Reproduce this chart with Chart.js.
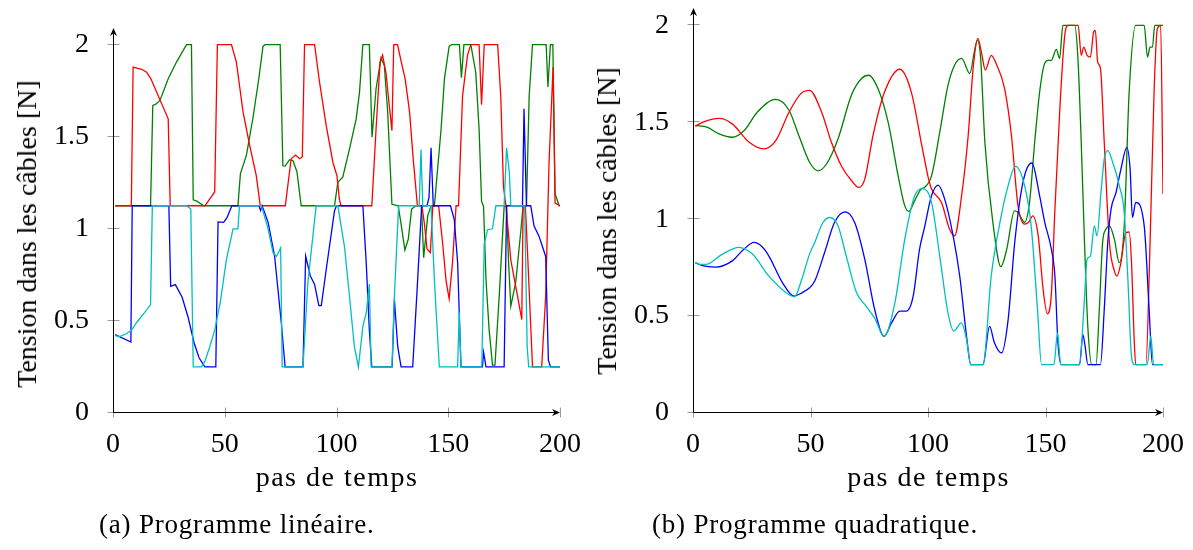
<!DOCTYPE html>
<html lang="fr">
<head>
<meta charset="utf-8">
<title>Tension dans les câbles</title>
<script src="https://cdn.jsdelivr.net/npm/chart.js@4.4.1/dist/chart.umd.min.js"></script>
<style>
  html, body { margin: 0; padding: 0; background: #fff; }
  #page { position: relative; width: 1193px; height: 550px; overflow: hidden;
          font-family: 'Liberation Serif', 'Times New Roman', serif; color: #000; }
  canvas { position: absolute; top: 0; }
  #cLin { left: 0; }
  #cQuad { left: 596px; }
  .lbl { position: absolute; white-space: nowrap; line-height: 1; }
  .xt { font-size: 28px; letter-spacing: 1.5px; top: 462.5px; transform: translateX(-50%); }
  .yt { font-size: 28px; transform: translate(-50%, -50%) rotate(-90deg); }
  .cap { font-size: 27px; letter-spacing: 0.8px; top: 511.4px; }
</style>
</head>
<body>
<div id="page">
  <canvas id="cLin" width="596" height="550"></canvas>
  <canvas id="cQuad" width="597" height="550"></canvas>
  <div class="lbl yt" style="left:26.5px; top:234px;">Tension dans les câbles [N]</div>
  <div class="lbl yt" style="left:606.5px; top:220.5px;">Tension dans les câbles [N]</div>
  <div class="lbl xt" style="left:337px;">pas de temps</div>
  <div class="lbl xt" style="left:928.5px;">pas de temps</div>
  <div class="lbl cap" style="left:99px;">(a) Programme linéaire.</div>
  <div class="lbl cap" style="left:652px;">(b) Programme quadratique.</div>
</div>
<script>
// Axis ticks shared by both panels
const xTicks = [0, 50, 100, 150, 200];
const yTicks = [0, 0.5, 1, 1.5, 2];

// ---- (a) Programme linéaire : tension of each cable per time step ----
const linCyanX = [1, 3, 6, 8.3, 10.5, 12.8, 16.8, 17.6, 32.9, 34.8, 35.9, 39.6, 41.1, 43.3, 45.5, 48, 50.7, 53.7, 55.9, 56.6, 66.4, 69.4, 71.6, 73.1, 75, 75.7, 85, 87.2, 90.9, 100.6, 103.6, 105.8, 108, 109.8, 111.8, 113.3, 114.7, 115.5, 124.8, 125.9, 127.8, 137, 137.8, 138.6, 142.3, 143.8, 146, 154.2, 154.9, 155.7, 165, 166.1, 167.6, 169.8, 171.3, 175, 176.1, 177.3, 178, 184.2, 185.3, 186, 200];
const linCyanY = [0.42, 0.415, 0.43, 0.45, 0.49, 0.525, 0.587, 1.125, 1.125, 1.107, 0.25, 0.25, 0.28, 0.36, 0.45, 0.6, 0.83, 1.0, 1.0, 1.125, 1.125, 1.0, 0.87, 0.85, 0.896, 0.25, 0.25, 0.71, 1.125, 1.125, 0.9, 0.634, 0.36, 0.25, 0.47, 0.543, 0.7, 0.25, 0.25, 0.634, 1.125, 1.125, 1.43, 1.125, 1.125, 0.72, 0.25, 0.25, 0.55, 0.25, 0.25, 0.92, 0.995, 1.0, 1.125, 1.125, 1.44, 1.31, 1.125, 1.125, 0.36, 0.25, 0.25];

const linBlueX = [1, 8, 8.6, 25, 25.8, 27.9, 30.9, 33.6, 36.3, 38.5, 41.1, 46, 47, 49.5, 51, 53.2, 65.3, 66, 66.7, 67.5, 69.4, 72.3, 75.3, 77, 85, 86.2, 88.3, 90.2, 92.1, 93.2, 95.4, 99.1, 100, 111.8, 113.3, 114.7, 115.8, 124.9, 125.9, 127.4, 128.9, 134.1, 136.3, 138.1, 140.5, 141.4, 142.3, 143.3, 151, 152.7, 154.2, 155.7, 165.3, 165.8, 166.9, 175, 176.1, 183.2, 183.9, 185, 186.9, 188.4, 190.6, 193.6, 194.8, 195.8, 200];
const linBlueY = [0.425, 0.385, 1.125, 1.125, 0.688, 0.697, 0.63, 0.52, 0.38, 0.3, 0.25, 0.25, 1.037, 1.035, 1.06, 1.125, 1.125, 1.1, 1.125, 1.1, 1.035, 0.852, 0.49, 0.25, 0.25, 0.852, 0.744, 0.698, 0.583, 0.583, 0.779, 1.097, 1.125, 1.125, 0.816, 0.45, 0.25, 0.25, 0.616, 0.36, 0.25, 0.25, 0.72, 1.125, 1.125, 1.17, 1.44, 1.125, 1.125, 1.05, 0.816, 0.25, 0.25, 0.33, 0.25, 0.25, 1.125, 1.125, 1.651, 1.125, 1.125, 1.015, 0.96, 0.85, 0.285, 0.25, 0.25];

const linRedX = [1, 8.2, 9.0, 12.8, 15, 16.8, 24.7, 25.6, 41.1, 43.8, 45.5, 46.7, 53, 55.2, 58.2, 61.2, 64.1, 65.9, 77.1, 79.7, 81.7, 83.5, 84.7, 85.7, 90.2, 92.4, 95.4, 98.4, 100.2, 101.3, 102, 115.8, 117.7, 119.5, 120.6, 122.1, 123.6, 124.8, 125.6, 127.3, 129, 130.7, 132.7, 134.2, 136.2, 138.2, 139.3, 140.5, 142, 143.1, 145.7, 147.5, 149, 150.4, 151.9, 153.5, 154.6, 156.4, 158.6, 160.1, 163.8, 164.9, 166.1, 172.1, 173.5, 174.7, 175.8, 178, 181, 182.9, 183.5, 184.5, 185.4, 187.7, 191.8, 193.6, 195.1, 196.9, 197.8, 200];
const linRedY = [1.125, 1.125, 1.878, 1.866, 1.85, 1.818, 1.597, 1.125, 1.125, 1.17, 1.2, 2.0, 2.0, 1.905, 1.633, 1.45, 1.288, 1.125, 1.125, 1.38, 1.4, 1.38, 1.39, 2.0, 2.0, 1.797, 1.56, 1.36, 1.288, 1.16, 1.125, 1.125, 1.542, 1.905, 1.942, 1.851, 1.669, 1.533, 2.0, 2.0, 1.905, 1.815, 1.633, 1.397, 1.125, 1.125, 1.03, 0.89, 0.87, 1.125, 1.125, 0.92, 0.72, 0.62, 0.816, 1.125, 1.125, 1.72, 1.942, 2.0, 2.0, 1.673, 2.0, 2.0, 1.72, 1.23, 1.125, 0.83, 0.634, 0.507, 1.125, 1.125, 0.89, 0.25, 0.25, 0.634, 1.36, 1.878, 1.14, 1.125];

const linGreenX = [1, 16.8, 17.8, 19, 21, 24.7, 28.4, 32.9, 35.1, 35.9, 37.5, 39.6, 40.5, 55.9, 57, 59.7, 62.6, 65.3, 67.1, 68, 74.8, 76, 77, 79, 80.5, 82.3, 84.2, 99.1, 100.6, 102.8, 105.8, 108.8, 110.3, 111.8, 114.7, 115.9, 117.7, 119.9, 121.4, 122.9, 124.8, 127.6, 128.8, 130.6, 132.1, 133.6, 135.6, 138, 139, 140.8, 142.3, 143.8, 146.8, 148.3, 150.4, 151.5, 155, 155.9, 157, 160.1, 162.3, 163.8, 164.9, 165.8, 166.9, 168.3, 169.8, 170.9, 172.8, 175, 176.1, 177, 178, 180.2, 182.4, 183.5, 185, 186.2, 187.7, 193.8, 194.6, 195.7, 196.8, 197.8, 199.6, 200];
const linGreenY = [1.125, 1.125, 1.67, 1.675, 1.697, 1.815, 1.905, 2.0, 2.0, 1.157, 1.15, 1.133, 1.125, 1.125, 1.298, 1.4, 1.6, 1.82, 1.99, 2.0, 2.0, 1.342, 1.34, 1.375, 1.37, 1.31, 1.125, 1.125, 1.252, 1.28, 1.433, 1.597, 1.742, 2.0, 2.0, 1.497, 1.76, 1.927, 1.887, 1.633, 1.133, 1.125, 1.034, 0.885, 0.943, 1.107, 1.125, 1.125, 0.843, 1.07, 1.125, 1.125, 1.542, 1.815, 1.99, 2.0, 2.0, 1.82, 2.0, 2.0, 1.85, 1.542, 1.15, 1.12, 0.72, 0.45, 0.26, 0.26, 0.634, 1.12, 1.125, 0.816, 0.58, 0.71, 0.98, 1.125, 1.125, 1.72, 2.0, 2.0, 1.77, 2.0, 2.0, 1.19, 1.125, 1.125];

// ---- (b) Programme quadratique ----
const quadCyanX = [1, 3, 5.4, 12.5, 19.5, 25.3, 32.3, 40.9, 43.3, 45.8, 49.6, 51.8, 55.3, 58.2, 61.7, 65.2, 69.6, 73.1, 77.3, 81.3, 85.9, 90.1, 94.3, 97.6, 101.5, 105, 108.5, 111, 114.2, 116.4, 118.2, 123.4, 126.9, 130.6, 134.1, 137.2, 141.1, 143.9, 146.6, 148.3, 153.6, 155.1, 156.5, 164.5, 166.3, 167.7, 169.1, 170.8, 171.9, 173.6, 175, 176.5, 178.6, 181.4, 183.5, 185, 186.6, 187.8, 193.3, 194.8, 196, 200];
const quadCyanY = [0.776, 0.767, 0.767, 0.82, 0.855, 0.82, 0.706, 0.61, 0.6, 0.672, 0.82, 0.88, 0.983, 1.009, 0.966, 0.81, 0.62, 0.56, 0.49, 0.396, 0.568, 0.896, 1.12, 1.158, 1.087, 0.81, 0.517, 0.423, 0.465, 0.38, 0.25, 0.25, 0.707, 0.983, 1.173, 1.273, 1.173, 0.966, 0.534, 0.25, 0.25, 0.413, 0.25, 0.25, 0.534, 0.793, 0.81, 0.966, 0.914, 1.138, 1.311, 1.354, 1.294, 1.173, 1.035, 0.707, 0.292, 0.25, 0.25, 0.396, 0.25, 0.25];

const quadBlueX = [1, 4, 9.7, 16.7, 21.2, 26, 29.2, 32.3, 38.1, 43, 46.3, 49.6, 51.8, 56, 60.2, 64.8, 68.8, 73.1, 77.3, 81.3, 84.5, 88, 90.8, 93.7, 96.4, 98.5, 101.5, 104.3, 107.1, 110.7, 113.5, 116.4, 118.2, 123.4, 126.2, 128.3, 131.3, 134.1, 136.9, 140.4, 144.2, 147.5, 149.7, 152.5, 154, 155.3, 156.7, 164.5, 165.9, 166.8, 168, 173.4, 175, 176.5, 177.9, 180, 182.1, 184.6, 186, 187, 188.4, 192, 194.1, 195.5, 200];
const quadBlueY = [0.776, 0.76, 0.753, 0.785, 0.84, 0.88, 0.86, 0.81, 0.672, 0.603, 0.62, 0.646, 0.681, 0.828, 0.983, 1.038, 0.983, 0.793, 0.534, 0.396, 0.465, 0.526, 0.526, 0.603, 0.845, 0.957, 1.121, 1.176, 1.104, 0.914, 0.707, 0.396, 0.25, 0.25, 0.447, 0.361, 0.31, 0.482, 0.879, 1.19, 1.29, 1.121, 0.983, 0.845, 0.707, 0.361, 0.25, 0.25, 0.404, 0.35, 0.25, 0.25, 0.534, 0.88, 1.052, 1.138, 1.259, 1.371, 1.259, 1.009, 1.087, 0.966, 0.534, 0.25, 0.25];

const quadRedX = [1, 4, 11.1, 16.7, 23.9, 30.2, 35.2, 40.9, 45.8, 49.6, 54.7, 58.9, 63.1, 67.4, 70.5, 73.1, 76.6, 81.5, 88, 92.9, 97.1, 98.5, 100.4, 101.5, 105.7, 109.2, 111.3, 114.3, 117.1, 119.2, 121.2, 122.7, 124.4, 126.9, 129, 132.6, 135.5, 138.3, 141.1, 142.8, 144.6, 146.9, 149, 150.8, 152.5, 154, 156.1, 158.2, 159.6, 163.9, 165.2, 166.3, 167.7, 169.1, 170.5, 171.2, 172.2, 173.4, 175, 177.2, 179.3, 180.4, 182.1, 184.2, 185.6, 186.6, 187.8, 188.4, 192.7, 194.5, 196.2, 197.6, 199, 200];
const quadRedY = [1.48, 1.5, 1.52, 1.492, 1.397, 1.363, 1.406, 1.553, 1.647, 1.665, 1.553, 1.397, 1.276, 1.2, 1.164, 1.207, 1.432, 1.656, 1.774, 1.656, 1.397, 1.31, 1.2, 1.156, 1.087, 0.948, 0.914, 1.121, 1.432, 1.777, 1.933, 1.864, 1.77, 1.846, 1.803, 1.674, 1.432, 1.07, 0.975, 0.984, 1.017, 0.914, 0.637, 0.512, 0.616, 1.05, 1.57, 1.95, 2.0, 2.0, 1.846, 1.888, 1.846, 1.837, 1.967, 1.975, 1.812, 1.777, 1.397, 0.88, 0.733, 0.707, 0.776, 0.931, 0.934, 0.776, 0.361, 0.25, 0.25, 0.88, 1.656, 1.984, 2.0, 1.13];

const quadGreenX = [1, 6, 11.1, 16.7, 21.8, 27.4, 35.2, 40.9, 45.1, 49.6, 53.2, 56.8, 61.7, 67.4, 71.7, 74.8, 78.7, 83, 87.3, 90.1, 91.8, 94.3, 97.1, 98.5, 101.5, 105, 108.5, 111.3, 114.3, 117.8, 119.7, 121, 122.4, 124.2, 127.8, 131, 133.5, 136.8, 138.3, 141.1, 143.2, 145.4, 147.5, 149.6, 151.1, 152.5, 154.6, 156, 157.4, 162.4, 163.8, 165.2, 166.6, 168, 169.7, 171.5, 172.9, 174.3, 175.7, 177.2, 179.3, 181.4, 183.5, 185.6, 188.4, 192, 193.4, 194.5, 195.5, 196.5, 200];
const quadGreenY = [1.484, 1.475, 1.44, 1.423, 1.458, 1.553, 1.618, 1.561, 1.43, 1.294, 1.25, 1.285, 1.414, 1.64, 1.726, 1.743, 1.674, 1.502, 1.224, 1.07, 1.04, 1.095, 1.156, 1.164, 1.224, 1.449, 1.691, 1.795, 1.83, 1.752, 1.864, 1.924, 1.83, 1.397, 0.966, 0.755, 0.845, 1.043, 1.035, 0.984, 1.087, 1.397, 1.656, 1.803, 1.82, 1.82, 1.877, 1.83, 2.0, 2.0, 1.83, 1.397, 0.88, 0.447, 0.25, 0.25, 0.534, 0.88, 0.948, 0.966, 0.897, 0.776, 0.966, 1.656, 2.0, 2.0, 1.837, 1.888, 1.888, 2.0, 2.0];

const COLORS = { cyan: '#00bfbf', blue: '#0000ff', red: '#ff0000', green: '#008000' };
const FONT = "'Liberation Serif', 'Times New Roman', serif";
const tickFont = { family: FONT, size: 28 };

function series(xs, ys, color, smooth) {
  return {
    data: xs.map((x, i) => ({ x: x, y: ys[i] })),
    showLine: true,
    borderColor: color,
    backgroundColor: color,
    borderWidth: 1.3,
    pointRadius: 0,
    pointHoverRadius: 0,
    fill: false,
    tension: 0,
    cubicInterpolationMode: smooth ? 'monotone' : 'default'
  };
}

// Small stealth-like arrowhead at the end of an axis
function arrowHead(ctx, tx, ty, dx, dy) {
  const len = 8, half = 3.5, notch = 5.5;
  const px = -dy, py = dx;
  ctx.beginPath();
  ctx.moveTo(tx, ty);
  ctx.lineTo(tx - dx * len + px * half, ty - dy * len + py * half);
  ctx.lineTo(tx - dx * notch, ty - dy * notch);
  ctx.lineTo(tx - dx * len - px * half, ty - dy * len - py * half);
  ctx.closePath();
  ctx.fill();
}

// Axis lines with arrows, and tick marks crossing the axes
const axisDecor = {
  id: 'axisDecor',
  afterDraw(chart) {
    const { ctx, chartArea: a } = chart;
    const sx = chart.scales.x, sy = chart.scales.y;
    const x0 = Math.round(a.left) + 0.5;
    const y0 = Math.round(a.bottom) - 0.5;
    ctx.save();
    ctx.lineWidth = 1;
    ctx.strokeStyle = '#9a9a9a';
    ctx.beginPath();
    sx.ticks.forEach(t => {
      const p = Math.round(sx.getPixelForValue(t.value)) + 0.5;
      ctx.moveTo(p, y0 - 5); ctx.lineTo(p, y0 + 5);
    });
    sy.ticks.forEach(t => {
      const p = Math.round(sy.getPixelForValue(t.value)) - 0.5;
      ctx.moveTo(x0 - 6, p); ctx.lineTo(x0 + 6, p);
    });
    ctx.stroke();
    ctx.strokeStyle = '#000';
    ctx.fillStyle = '#000';
    ctx.beginPath();
    ctx.moveTo(x0, y0); ctx.lineTo(x0, a.top + 5);
    ctx.moveTo(x0, y0); ctx.lineTo(a.right - 5, y0);
    ctx.stroke();
    arrowHead(ctx, x0, a.top, 0, -1);
    arrowHead(ctx, a.right, y0, 1, 0);
    ctx.restore();
  }
};

// Fixed box sizes; label overflow padding is dropped so the plot area is exact
function fixBox(s, size) {
  if (s.isHorizontal()) { s.height = size; } else { s.width = size; }
  s.paddingTop = 0; s.paddingBottom = 0; s.paddingLeft = 0; s.paddingRight = 0;
}

function buildChart(canvasId, datasets, geom) {
  return new Chart(document.getElementById(canvasId), {
    type: 'scatter',
    data: { datasets: datasets },
    options: {
      responsive: false,
      animation: false,
      devicePixelRatio: 1,
      events: [],
      layout: { padding: { top: geom.top, right: geom.right, left: 0, bottom: 0 } },
      plugins: { legend: { display: false }, tooltip: { enabled: false } },
      scales: {
        x: {
          type: 'linear', min: 0, max: 200,
          afterBuildTicks: s => { s.ticks = xTicks.map(v => ({ value: v })); },
          afterFit: s => fixBox(s, 550 - geom.bottom),
          grid: { display: false }, border: { display: false },
          ticks: { font: tickFont, color: '#000', padding: 7, maxRotation: 0, autoSkip: false,
                   callback: v => String(v) }
        },
        y: {
          type: 'linear', min: 0, max: 2.09,
          afterBuildTicks: s => { s.ticks = yTicks.map(v => ({ value: v })); },
          afterFit: s => fixBox(s, geom.left),
          grid: { display: false }, border: { display: false },
          ticks: { font: tickFont, color: '#000', padding: 16, callback: v => String(v) }
        }
      }
    },
    plugins: [axisDecor]
  });
}

// First dataset is painted on top: cyan over blue over red over green
buildChart('cLin', [
  series(linCyanX, linCyanY, COLORS.cyan, false),
  series(linBlueX, linBlueY, COLORS.blue, false),
  series(linRedX, linRedY, COLORS.red, false),
  series(linGreenX, linGreenY, COLORS.green, false)
], { left: 113, right: 36, top: 28, bottom: 413 });

buildChart('cQuad', [
  series(quadCyanX, quadCyanY, COLORS.cyan, true),
  series(quadBlueX, quadBlueY, COLORS.blue, true),
  series(quadRedX, quadRedY, COLORS.red, true),
  series(quadGreenX, quadGreenY, COLORS.green, true)
], { left: 97, right: 30, top: 8, bottom: 413 });
</script>
</body>
</html>
